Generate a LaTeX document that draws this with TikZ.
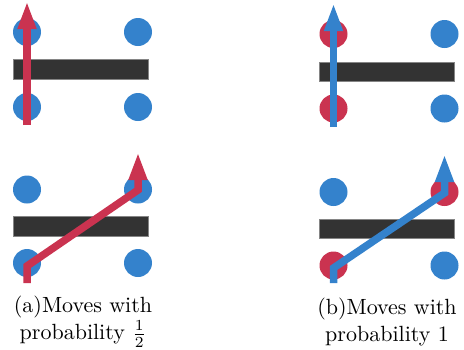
\documentclass[tikz,border=0pt]{standalone}
\usetikzlibrary{arrows.meta}
\definecolor{dotblue}{RGB}{52,130,204}
\definecolor{arrred}{RGB}{202,51,80}
\definecolor{bargray}{RGB}{51,51,51}
\begin{document}
\begin{tikzpicture}[x=1pt,y=-1pt,
  bdot/.style={circle,fill=dotblue,minimum size=28pt,inner sep=0pt},
  rdot/.style={circle,fill=arrred,minimum size=28pt,inner sep=0pt},
  wall/.style={fill=bargray,draw=bargray!60,line width=0.4pt},
  mv/.style={line width=7.5pt,-{Triangle[width=17pt,length=28pt]}},
  captxt/.style={align=center,inner sep=0pt,anchor=north,scale=2.2,font=\fontsize{10}{12.1}\selectfont}]
\useasboundingbox (0,0) rectangle (464,349);
% ---------- panel a, top ----------
\node[bdot] (a1) at (27,32) {};
\node[bdot] (a2) at (138,32) {};
\node[bdot] (a3) at (27,107) {};
\node[bdot] (a4) at (138,107) {};
\fill[wall] (13,59.5) rectangle (148,79);
\coordinate (as) at (27,125);
\coordinate (ae) at (27,1);
\draw[mv,arrred] (as) -- (ae);
% ---------- panel b, top ----------
\node[rdot] (b1) at (333.5,34) {};
\node[bdot] (b2) at (444.5,34) {};
\node[rdot] (b3) at (333.5,108.5) {};
\node[bdot] (b4) at (444.5,108.5) {};
\fill[wall] (319,62) rectangle (454,81);
\coordinate (bs) at (333.5,127);
\coordinate (be) at (333.5,3);
\draw[mv,dotblue] (bs) -- (be);
% ---------- panel a, bottom ----------
\node[bdot] (c1) at (27,189.5) {};
\node[bdot] (c2) at (138,189.5) {};
\node[bdot] (c3) at (27,263) {};
\node[bdot] (c4) at (138,263) {};
\fill[wall] (13,216) rectangle (148,236);
\coordinate (cs) at (27,283);
\coordinate (ck1) at (27,266);
\coordinate (ck2) at (138,190);
\coordinate (ce) at (138,152);
\draw[mv,arrred] (cs) -- (ck1) -- (ck2) -- (ce);
% ---------- panel b, bottom ----------
\node[bdot] (d1) at (333.5,192) {};
\node[rdot] (d2) at (444.5,192) {};
\node[rdot] (d3) at (333.5,265.5) {};
\node[bdot] (d4) at (444.5,265.5) {};
\fill[wall] (319,219) rectangle (454,238);
\coordinate (ds) at (333.5,283);
\coordinate (dk1) at (333.5,268);
\coordinate (dk2) at (444.5,193);
\coordinate (de) at (444.5,154);
\draw[mv,dotblue] (ds) -- (dk1) -- (dk2) -- (de);
% ---------- captions ----------
\node[captxt] (capa) at (83,296) {(a)Moves with\\probability $\frac{1}{2}$};
\node[captxt] (capb) at (387,298) {(b)Moves with\\probability 1};
\end{tikzpicture}
\end{document}
